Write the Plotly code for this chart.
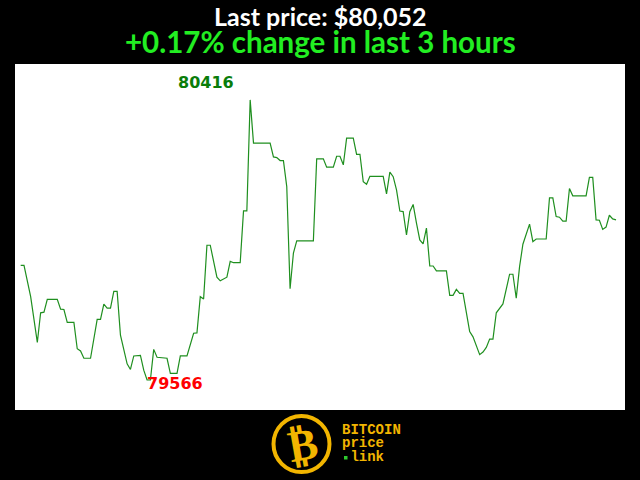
import plotly.graph_objects as go

# ---- data (minute offset within the last 3 hours, BTC price) ----
minutes = [0, 1, 3, 5, 6, 7, 8, 11, 12, 13, 14, 16, 17, 18, 19, 21, 23, 24, 25, 26,
           27, 28, 29, 30, 32, 33, 34, 35, 36, 37, 38, 39, 40, 41, 43, 44, 45, 47, 48, 50,
           52, 53, 54, 55, 56, 57, 59, 60, 62, 63, 64, 66, 67, 68, 69, 70, 75, 76, 77, 78,
           79, 80, 81, 82, 83, 88, 89, 91, 92, 94, 95, 96, 97, 98, 100, 101, 102, 103, 104, 105,
           109, 110, 111, 112, 113, 114, 115, 116, 117, 118, 119, 120, 121, 122, 123, 124, 125, 128, 129, 130,
           131, 132, 133, 135, 136, 138, 139, 140, 141, 142, 143, 144, 145, 147, 148, 149, 150, 151, 153, 154,
           155, 158, 159, 160, 161, 162, 163, 164, 165, 166, 170, 171, 172, 173, 174, 175, 176, 177, 178, 179]
prices = [79914, 79914, 79819, 79680, 79770, 79772, 79811, 79811, 79781, 79780, 79741, 79741, 79661, 79654, 79632, 79632, 79750, 79750, 79796, 79784,
          79784, 79835, 79835, 79702, 79615, 79598, 79639, 79641, 79641, 79596, 79566, 79566, 79659, 79635, 79634, 79632, 79586, 79586, 79639, 79639,
          79708, 79709, 79819, 79812, 79975, 79975, 79878, 79867, 79878, 79926, 79922, 79922, 80079, 80079, 80416, 80285, 80285, 80243, 80241, 80232,
          80232, 80153, 79843, 79951, 79988, 79988, 80237, 80237, 80212, 80212, 80245, 80245, 80219, 80300, 80300, 80251, 80251, 80168, 80160, 80184,
          80184, 80131, 80197, 80183, 80143, 80079, 80077, 80006, 80077, 80099, 80042, 79991, 79979, 80027, 79912, 79912, 79897, 79897, 79823, 79823,
          79841, 79829, 79829, 79713, 79697, 79643, 79651, 79665, 79690, 79690, 79770, 79784, 79797, 79887, 79887, 79814, 79910, 79978, 80039, 79986,
          79994, 79994, 80119, 80119, 80062, 80060, 80048, 80048, 80147, 80125, 80125, 80181, 80181, 80052, 80051, 80023, 80030, 80066, 80055, 80052]
last_price = 80052
change_pct = 0.17
period_hours = 3
title_line1 = f"Last price: ${last_price:,}"
title_line2 = f"+{change_pct:.2f}% change in last {period_hours} hours"
logo_lines = ["BITCOIN", "price", "\u00a0link"]

# ---- layout geometry ----
W, H = 640, 480
ML, MR, MT, MB = 15, 15, 64, 70
PW, PH = W - ML - MR, H - MT - MB


def pxx(x):
    return (x - ML) / PW


def pxy(y):
    return (H - MB - y) / PH


fig = go.Figure()
fig.add_trace(go.Scatter(x=minutes, y=prices, mode="lines",
                         line=dict(color="#1f8f1f", width=1.2),
                         hoverinfo="skip", showlegend=False))

imax = prices.index(max(prices))
imin = prices.index(min(prices))

ann = []
ann.append(dict(x=minutes[imax], y=prices[imax], xref="x", yref="y",
                text=f"<b>{prices[imax]}</b>", showarrow=False,
                xanchor="right", yanchor="middle", xshift=-14, yshift=17,
                font=dict(family="DejaVu Sans", size=16, color="#0a7d0a")))
ann.append(dict(x=minutes[imin], y=prices[imin], xref="x", yref="y",
                text=f"<b>{prices[imin]}</b>", showarrow=False,
                xanchor="left", yanchor="middle", xshift=-2, yshift=-3,
                font=dict(family="DejaVu Sans", size=16, color="#ff0000")))

# title block (two lines in one text)
title_text = (f"<span style='font-size:25px'><b>{title_line1}</b></span><br>"
              f"<span style='font-size:29.5px;color:#22ee22'><b>{title_line2}</b></span>")
ann.append(dict(x=0.5, y=pxy(30), xref="paper", yref="paper",
                text=title_text, showarrow=False, align="center",
                xanchor="center", yanchor="middle",
                font=dict(family="Lato", size=21, color="#ffffff")))

# logo text block
logo_col = "#f2b500"
logo_text = "<br>".join(f"<span style='font-size:14px'><b>{t}</b></span>" for t in logo_lines)
ann.append(dict(x=pxx(339.5), y=pxy(443), xref="paper", yref="paper",
                text=logo_text, showarrow=False, xanchor="left", yanchor="middle",
                align="left",
                font=dict(family="Liberation Mono", size=10.25, color=logo_col)))
ann.append(dict(x=pxx(302), y=pxy(444), xref="paper", yref="paper",
                text="<b>₿</b>", showarrow=False, xanchor="center", yanchor="middle",
                textangle=-10,
                font=dict(family="DejaVu Sans", size=44, color=logo_col)))

shapes = [dict(type="circle", xref="paper", yref="paper",
               x0=pxx(273.5), x1=pxx(329.5), y0=pxy(472), y1=pxy(416),
               line=dict(color=logo_col, width=4), fillcolor="rgba(0,0,0,0)"),
          dict(type="rect", xref="paper", yref="paper",
               x0=pxx(344), x1=pxx(347.5), y0=pxy(459.5), y1=pxy(456),
               line=dict(width=0), fillcolor="#2ecc2e")]

fig.update_layout(
    width=W, height=H,
    margin=dict(l=ML, r=MR, t=MT, b=MB),
    paper_bgcolor="#000000", plot_bgcolor="#ffffff",
    xaxis=dict(visible=False, range=[-1.71, 181.7], fixedrange=True),
    yaxis=dict(visible=False, range=[79475, 80525], fixedrange=True),
    annotations=ann, shapes=shapes,
    showlegend=False,
)

fig.write_html("out.html", config={"displayModeBar": False},
               post_script="document.body.style.margin='0';document.body.style.background='#000';document.body.style.overflow='hidden';")
